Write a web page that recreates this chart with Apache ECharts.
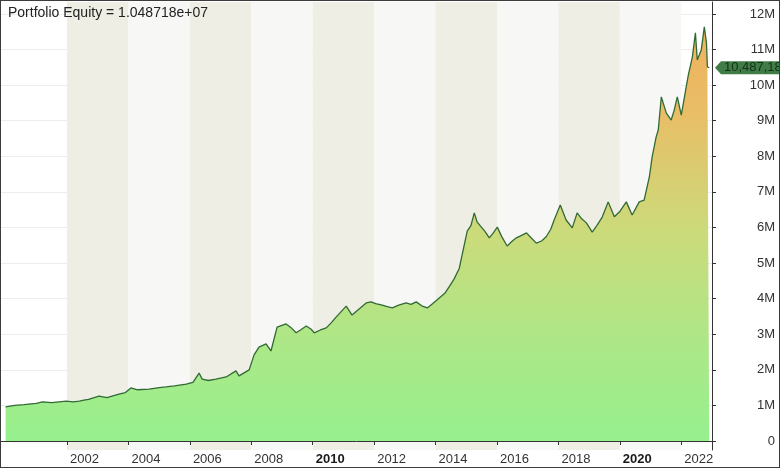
<!DOCTYPE html>
<html>
<head>
<meta charset="utf-8">
<script src="https://cdn.jsdelivr.net/npm/echarts@6/dist/echarts.min.js"></script>
<style>
html, body { margin: 0; padding: 0; background: #fff; }
#main { width: 780px; height: 468px; }
#frame { position: absolute; left: 0; top: 0; width: 780px; height: 468px; box-sizing: border-box; border: 1px solid #3c3c3c; pointer-events: none; }
</style>
</head>
<body>
<div id="main"></div>
<div id="frame"></div>
<script>
// equity curve (x in decimal years, y in millions)
var years = [
    2000.0, 2000.3, 2000.6, 2001.0, 2001.2, 2001.5, 2001.97, 2002.2, 2002.4, 2002.55,
    2002.7, 2003.04, 2003.3, 2003.69, 2003.9, 2004.08, 2004.3, 2004.67, 2005.0, 2005.22,
    2005.5, 2005.88, 2006.1, 2006.3, 2006.4, 2006.6, 2006.85, 2007.18, 2007.5, 2007.6,
    2007.93, 2008.09, 2008.25, 2008.48, 2008.64, 2008.84, 2009.13, 2009.3, 2009.46, 2009.6,
    2009.79, 2009.95, 2010.05, 2010.25, 2010.44, 2010.6, 2010.76, 2011.09, 2011.28, 2011.5,
    2011.74, 2011.9, 2012.05, 2012.26, 2012.4, 2012.59, 2012.8, 2013.04, 2013.2, 2013.37,
    2013.55, 2013.73, 2013.9, 2014.12, 2014.3, 2014.44, 2014.6, 2014.77, 2015.03, 2015.15,
    2015.26, 2015.35, 2015.49, 2015.6, 2015.75, 2015.88, 2016.01, 2016.15, 2016.33, 2016.5,
    2016.63, 2016.8, 2016.96, 2017.1, 2017.28, 2017.45, 2017.6, 2017.75, 2017.86, 2018.06,
    2018.25, 2018.45, 2018.61, 2018.75, 2018.91, 2019.1, 2019.25, 2019.43, 2019.62, 2019.82,
    2020.0, 2020.21, 2020.4, 2020.63, 2020.79, 2020.96, 2021.05, 2021.18, 2021.25, 2021.35,
    2021.51, 2021.67, 2021.77, 2021.87, 2022.0, 2022.16, 2022.23, 2022.36, 2022.46, 2022.52,
    2022.65, 2022.75, 2022.82, 2022.85, 2022.91
];
var equityM = [
    0.96, 1.00, 1.02, 1.06, 1.10, 1.08, 1.12, 1.10, 1.12, 1.15,
    1.17, 1.26, 1.22, 1.32, 1.36, 1.49, 1.44, 1.46, 1.50, 1.52,
    1.55, 1.60, 1.65, 1.91, 1.74, 1.70, 1.74, 1.80, 1.97, 1.83,
    2.00, 2.42, 2.64, 2.73, 2.53, 3.20, 3.29, 3.18, 3.04, 3.12,
    3.23, 3.14, 3.04, 3.12, 3.18, 3.32, 3.48, 3.79, 3.54, 3.70,
    3.88, 3.91, 3.86, 3.82, 3.78, 3.74, 3.82, 3.88, 3.84, 3.91,
    3.80, 3.74, 3.86, 4.02, 4.15, 4.33, 4.55, 4.85, 5.90, 6.05,
    6.41, 6.16, 6.01, 5.90, 5.71, 5.85, 6.01, 5.75, 5.48, 5.62,
    5.71, 5.78, 5.85, 5.72, 5.56, 5.62, 5.74, 5.95, 6.21, 6.63,
    6.21, 5.99, 6.41, 6.25, 6.13, 5.87, 6.05, 6.30, 6.72, 6.30,
    6.45, 6.72, 6.35, 6.72, 6.77, 7.42, 7.98, 8.54, 8.74, 9.67,
    9.22, 9.02, 9.30, 9.67, 9.16, 9.95, 10.29, 10.79, 11.47, 10.71,
    10.99, 11.64, 11.19, 10.51, 10.49
];
var lastEquity = 10487180;
var xLabels = [2002, 2004, 2006, 2008, 2010, 2012, 2014, 2016, 2018, 2020, 2022];
var boldYears = [2010, 2020];
var yTicks = [0, 1e6, 2e6, 3e6, 4e6, 5e6, 6e6, 7e6, 8e6, 9e6, 10e6, 11e6, 12e6];

var font = "'Liberation Sans', Arial, sans-serif";
var xMin = 1999.85, xMax = 2023;

var seriesData = years.map(function (y, i) {
    return [y, equityM[i] * 1e6];
});

var myChart = echarts.init(document.getElementById('main'));
var option = {
    animation: false,
    backgroundColor: '#ffffff',
    title: {
        text: 'Portfolio Equity = 1.048718e+07',
        left: 3,
        top: 1,
        textStyle: { fontFamily: font, fontSize: 14, fontWeight: 'normal', color: '#222' }
    },
    grid: { left: 1, right: 68, top: 2, bottom: 18 },
    xAxis: {
        type: 'value',
        min: xMin,
        max: xMax,
        splitNumber: 12,
        axisLine: { lineStyle: { color: '#333', width: 1 } },
        axisTick: { customValues: xLabels, length: 4, lineStyle: { color: '#333' } },
        axisLabel: {
            customValues: xLabels,
            align: 'left',
            margin: 3,
            padding: [0, 0, 0, 3],
            fontFamily: font,
            fontSize: 13,
            color: '#333',
            formatter: function (v) {
                return boldYears.indexOf(v) >= 0 ? '{b|' + v + '}' : String(v);
            },
            rich: { b: { fontFamily: font, fontSize: 13, fontWeight: 'bold', color: '#1a1a1a' } }
        },
        splitLine: { show: false },
        splitArea: { show: true, areaStyle: { color: ['#eeeee4', '#f7f7f5'] } }
    },
    yAxis: {
        type: 'value',
        position: 'right',
        min: -253000,
        max: 12337000,
        splitNumber: 12,
        axisLine: { show: true, lineStyle: { color: '#333', width: 1 } },
        axisTick: { show: true, customValues: yTicks, length: 4, lineStyle: { color: '#333' } },
        axisLabel: {
            customValues: yTicks,
            align: 'right',
            margin: 63,
            fontFamily: font,
            fontSize: 13,
            color: '#333',
            formatter: function (v) {
                return v === 0 ? '0' : Math.round(v / 1e6) + 'M';
            }
        },
        splitLine: { show: true, lineStyle: { color: '#ededea', width: 1 } }
    },
    series: [
        {
            type: 'line',
            data: seriesData,
            showSymbol: false,
            clip: false,
            lineStyle: { color: '#316a35', width: 1.3 },
            areaStyle: {
                opacity: 1,
                color: new echarts.graphic.LinearGradient(0, 0, 0, 1, [
                    { offset: 0, color: '#efb25c' },
                    { offset: 0.2, color: '#e9bd66' },
                    { offset: 0.5, color: '#cbdb7b' },
                    { offset: 0.78, color: '#abe888' },
                    { offset: 1, color: '#97f08e' }
                ])
            },
            markPoint: {
                silent: true,
                symbol: 'path://M0,6.5 L6,0 L80,0 L80,13 L6,13 Z',
                symbolSize: [80, 13],
                symbolOffset: [43, 0],
                itemStyle: { color: '#3f7c46' },
                label: {
                    show: true,
                    position: 'insideLeft',
                    distance: 9,
                    fontFamily: font,
                    fontSize: 13,
                    color: '#17301a',
                    formatter: function () {
                        return lastEquity.toLocaleString('en-US');
                    }
                },
                data: [{ coord: [xMax, lastEquity] }]
            }
        }
    ]
};
myChart.setOption(option);
window.onresize = function () {
    myChart.resize();
};
</script>
</body>
</html>
